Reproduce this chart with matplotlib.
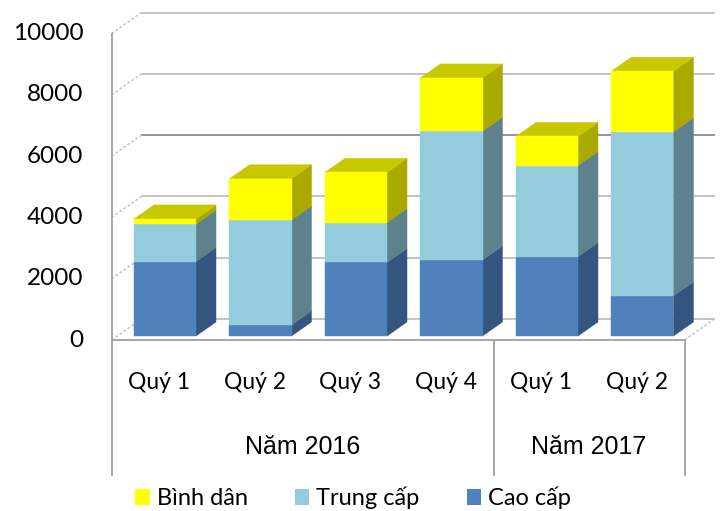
import matplotlib
matplotlib.use("Agg")
import matplotlib.pyplot as plt
import matplotlib.transforms as mtransforms
from matplotlib.patches import Polygon, Patch

# ---- data ----
quarters = ["Quý 1", "Quý 2", "Quý 3", "Quý 4", "Quý 1", "Quý 2"]
years = ["Năm 2016", "Năm 2017"]
year_span = [4, 2]
cao_cap = [2430, 360, 2400, 2480, 2590, 1310]
trung_cap = [1220, 3430, 1300, 4200, 2970, 5350]
binh_dan = [170, 1340, 1640, 1740, 950, 1980]
y_ticks = [0, 2000, 4000, 6000, 8000, 10000]
series_names = ["Cao cấp", "Trung cấp", "Bình dân"]
series_values = [cao_cap, trung_cap, binh_dan]

# ---- styles ----
front_col = {"Cao cấp": "#4F81BD", "Trung cấp": "#93CDDD", "Bình dân": "#FFFF00"}
side_col = {"Cao cấp": "#34557F", "Trung cấp": "#5E828D", "Bình dân": "#A9A900"}
top_col = {"Cao cấp": "#4470A6", "Trung cấp": "#7FB3C1", "Bình dân": "#C8C800"}
grid_col = "#BFBFBF"
axis_col = "#A6A6A6"
calibri_like = ["Lato", "DejaVu Sans"]
arial_like = ["Liberation Sans", "DejaVu Sans"]

fig = plt.figure(figsize=(7.25, 5.11), dpi=100)
ax = fig.add_axes([0, 0, 1, 1])
ax.set_xlim(-1.668, 5.924)
ax.set_ylim(-5579, 11093)
ax.axis("off")

# oblique depth vector (front plane -> back wall) in data units
DX, DY = 0.314, 685.0
D_FRONT, D_BACK = 0.19, 0.857
BAR_W = 0.65
X_LEFT, X_RIGHT = -0.5, len(quarters) - 0.5


def P(x, v, d):
    return (x + d * DX, v + d * DY)


def seg(p, q, **kw):
    ax.plot([p[0], q[0]], [p[1], q[1]], **kw)


# back wall gridlines and dashed left-wall ticks
for v in y_ticks:
    c = "#8C8C8C" if v == 6000 else grid_col
    seg(P(X_LEFT, v, 1), P(X_RIGHT, v, 1), color=c, lw=1.3, zorder=1)
    seg(P(X_LEFT, v, 0), P(X_LEFT, v, 1), color=grid_col, lw=1.0,
        ls=(0, (2, 1.5)), zorder=1)
seg(P(X_RIGHT, 0, 0), P(X_RIGHT, 0, 1), color=grid_col, lw=1.0,
    ls=(0, (2, 1.5)), zorder=1)

# value axis and floor front edge
seg(P(X_LEFT, 0, 0), P(X_LEFT, y_ticks[-1], 0), color=axis_col, lw=1.4, zorder=1)
seg(P(X_LEFT, 0, 0), P(X_RIGHT, 0, 0), color=axis_col, lw=1.4, zorder=1)

# stacked 3D columns
n = len(quarters)
bottoms = [0] * n
for name, vals in zip(series_names, series_values):
    xs = [i + D_FRONT * DX for i in range(n)]
    bb = [b + D_FRONT * DY for b in bottoms]
    ax.bar(xs, vals, width=BAR_W, bottom=bb, color=front_col[name],
           edgecolor=front_col[name], lw=0.3, zorder=3)
    for i in range(n):
        b, t = bottoms[i], bottoms[i] + vals[i]
        xr = i + BAR_W / 2
        xl = i - BAR_W / 2
        side = [P(xr, b, D_FRONT), P(xr, t, D_FRONT), P(xr, t, D_BACK), P(xr, b, D_BACK)]
        ax.add_patch(Polygon(side, closed=True, facecolor=side_col[name],
                             edgecolor=side_col[name], lw=0.3, zorder=2))
        if name == series_names[-1]:
            top = [P(xl, t, D_FRONT), P(xr, t, D_FRONT), P(xr, t, D_BACK), P(xl, t, D_BACK)]
            ax.add_patch(Polygon(top, closed=True, facecolor=top_col[name],
                                 edgecolor=top_col[name], lw=0.3, zorder=2))
    bottoms = [b + v for b, v in zip(bottoms, vals)]

# value tick labels
lbl_off = mtransforms.offset_copy(ax.transData, fig=fig, x=-28, y=0, units="dots")
for v in y_ticks:
    ax.text(X_LEFT, v, str(v), transform=lbl_off, ha="right", va="center",
            fontsize=17.5, family=calibri_like, color="black")

# multi-level category axis
k = 511 / (11093 + 5579)
div_bottom = -135 / k
quarter_y = -42 / k
year_y = -107 / k
edges = [X_LEFT]
for s in year_span:
    edges.append(edges[-1] + s)
for e in edges:
    seg(P(e, 0, 0), P(e, div_bottom, 0), color=axis_col, lw=1.4, zorder=1)
for i, q in enumerate(quarters):
    ax.text(i, quarter_y, q, ha="center", va="center", fontsize=16.5,
            family=calibri_like, color="black")
for j, yname in enumerate(years):
    ax.text((edges[j] + edges[j + 1]) / 2, year_y, yname, ha="center",
            va="center", fontsize=18, family=arial_like, color="black")

# legend
handles = [Patch(facecolor=front_col[nm], edgecolor="none") for nm in reversed(series_names)]
fig.legend(handles, list(reversed(series_names)), loc="center",
           bbox_to_anchor=(0.487, 0.026), ncol=3, frameon=False,
           prop={"family": calibri_like, "size": 17},
           handlelength=0.6, handleheight=0.65, handletextpad=0.3,
           columnspacing=2.0, borderpad=0.2)

fig.savefig("out.png", dpi=100)
